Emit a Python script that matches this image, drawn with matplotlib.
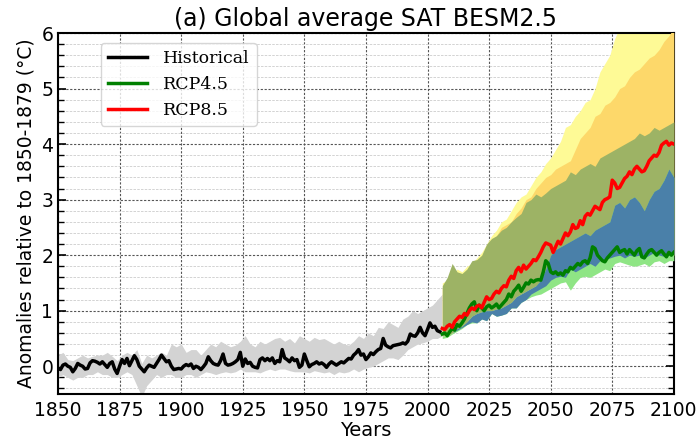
import numpy as np
import matplotlib
matplotlib.use("Agg")
import matplotlib.pyplot as plt
from matplotlib.ticker import MultipleLocator

# Historical global mean SAT anomaly (annual, 1850-2005)
hist_years = np.arange(1850, 2006)
hist = [
    -0.03, -0.06, 0.02, 0.04, 0.0, -0.02, -0.1, -0.04, 0.05, 0.02,
    0.0, -0.05, -0.04, 0.06, 0.1, 0.09, 0.07, 0.04, 0.08, 0.03,
    -0.02, 0.05, 0.08, -0.05, -0.13, 0.0, 0.12, 0.05, 0.14, 0.01,
    0.1, 0.19, 0.12, 0.0, -0.05, -0.1, -0.03, 0.02, 0.0, -0.02,
    0.05, 0.12, 0.2, 0.14, 0.08, 0.1, 0.0, -0.06, -0.05, -0.04,
    -0.05, 0.0, 0.03, 0.01, 0.04, -0.04, 0.0, -0.02, -0.06, -0.01,
    0.05, 0.17, 0.1, 0.05, 0.03, 0.02, 0.1, 0.22, 0.05, 0.02,
    0.03, 0.05, 0.08, 0.12, 0.25, 0.0, 0.13, 0.05, 0.07, 0.0,
    -0.02, -0.03, 0.12, 0.15, 0.1, 0.14, 0.1, 0.15, 0.05, 0.1,
    0.08, 0.3, 0.15, 0.12, 0.08, 0.15, 0.1, 0.12, -0.02, 0.02,
    0.22, 0.1, -0.01, 0.03, 0.05, 0.08, 0.04, 0.06, 0.03, -0.02,
    0.04, 0.08, 0.05, 0.02, 0.05, 0.08, 0.06, 0.1, 0.14, 0.13,
    0.2, 0.24, 0.3, 0.2, 0.22, 0.12, 0.17, 0.24, 0.21, 0.26,
    0.3, 0.32, 0.5, 0.38, 0.35, 0.33, 0.37, 0.38, 0.39, 0.4,
    0.42, 0.4, 0.45, 0.58, 0.55, 0.54, 0.6, 0.7, 0.6, 0.55,
    0.66, 0.78, 0.7, 0.72, 0.64, 0.62,
]

# ensemble spread of the historical runs (every 2 years)
hist_band_years = np.arange(1850, 2007, 2)
hist_hi = [
    0.2, 0.25, 0.12, 0.1, 0.15, 0.2, 0.15, 0.18, 0.2, 0.2,
    0.25, 0.18, 0.1, 0.2, 0.25, 0.2, 0.3, 0.05, 0.2, 0.15,
    0.2, 0.25, 0.2, 0.4, 0.35, 0.4, 0.25, 0.3, 0.3, 0.2,
    0.3, 0.4, 0.35, 0.45, 0.4, 0.35, 0.38, 0.45, 0.55, 0.4,
    0.35, 0.45, 0.4, 0.45, 0.5, 0.52, 0.45, 0.5, 0.42, 0.55,
    0.5, 0.45, 0.52, 0.48, 0.5, 0.45, 0.4, 0.45, 0.4, 0.38,
    0.45, 0.55, 0.5, 0.6, 0.55, 0.7, 0.68, 0.8, 0.75, 0.7,
    0.85, 0.9, 1.0, 0.95, 1.0, 1.05, 1.1, 1.2, 1.3,
]
hist_lo = [
    -0.2, -0.15, -0.2, -0.25, -0.2, -0.2, -0.15, -0.15, -0.1, -0.15,
    -0.15, -0.2, -0.2, -0.15, -0.1, -0.15, -0.35, -0.55, -0.35, -0.25,
    -0.15, -0.2, -0.15, -0.15, -0.2, -0.2, -0.15, -0.15, -0.2, -0.15,
    -0.1, -0.12, -0.15, -0.12, -0.1, -0.12, -0.1, -0.05, -0.1, -0.1,
    -0.1, -0.12, -0.08, -0.05, -0.08, -0.05, -0.05, -0.08, -0.1, -0.1,
    -0.1, -0.12, -0.08, -0.1, -0.12, -0.1, -0.15, -0.1, -0.12, -0.1,
    -0.05, -0.1, -0.05, -0.02, 0.0, 0.05, 0.1, 0.15, 0.15, 0.12,
    0.2, 0.3, 0.35, 0.4, 0.42, 0.45, 0.5, 0.5, 0.55,
]

# scenario runs (annual, 2006-2100)
scen_years = np.arange(2006, 2101)
rcp85 = [
    0.68, 0.66, 0.72, 0.75, 0.7, 0.8, 0.85, 0.9, 0.88, 0.95,
    0.92, 1.0, 1.05, 1.02, 1.08, 1.1, 1.05, 1.15, 1.25, 1.2,
    1.22, 1.3, 1.35, 1.32, 1.4, 1.45, 1.43, 1.55, 1.62, 1.58,
    1.72, 1.78, 1.7, 1.82, 1.75, 1.8, 1.85, 1.92, 1.9, 1.97,
    2.05, 2.15, 2.22, 2.2, 2.18, 2.05, 2.15, 2.25, 2.2, 2.3,
    2.4, 2.35, 2.42, 2.55, 2.48, 2.5, 2.62, 2.55, 2.7, 2.75,
    2.72, 2.8, 2.88, 2.85, 2.82, 2.95, 3.0, 3.02, 3.05, 3.35,
    3.3, 3.2, 3.22, 3.3, 3.38, 3.42, 3.5, 3.45, 3.55, 3.6,
    3.55, 3.5, 3.52, 3.6, 3.7, 3.75, 3.8, 3.78, 3.85, 3.98,
    4.02, 4.05, 3.98, 4.02, 4.0,
]
rcp45 = [
    0.58, 0.6, 0.55, 0.62, 0.68, 0.65, 0.75, 0.72, 0.78, 0.85,
    0.95, 1.05, 1.12, 1.16, 1.0, 1.1, 1.05, 1.0, 1.07, 1.1,
    1.05, 1.08, 1.12, 1.05, 1.1, 1.15, 1.2, 1.3, 1.25, 1.35,
    1.4, 1.46, 1.35, 1.42, 1.5, 1.48, 1.55, 1.52, 1.55, 1.56,
    1.55, 1.7, 1.9, 1.85, 1.7, 1.67, 1.7, 1.65, 1.68, 1.64,
    1.72, 1.7, 1.78, 1.75, 1.8, 1.85, 1.82, 1.88, 1.9, 1.85,
    1.95, 2.15, 2.12, 2.0, 1.95, 1.9, 1.88, 1.95, 2.0, 2.05,
    2.1, 2.15, 2.05, 2.08, 2.1, 2.02, 2.1, 2.05, 2.0, 2.08,
    2.12, 1.97, 1.95, 2.02, 2.08, 2.1, 2.05, 2.0, 2.05, 2.08,
    2.02, 1.97, 2.05, 2.0, 2.05,
]

# scenario spreads (every 2 years, 2006-2100)
band_years = np.arange(2006, 2101, 2)
yellow_hi = [
    1.5, 1.55, 1.6, 1.75, 1.7, 1.8, 1.85, 1.95, 2.05, 2.2,
    2.35, 2.45, 2.6, 2.65, 2.8, 2.95, 3.05, 3.1, 3.25, 3.4,
    3.5, 3.65, 3.75, 3.9, 4.05, 4.3, 4.35, 4.5, 4.6, 4.75,
    4.8, 5.0, 5.3, 5.45, 5.6, 5.9, 6.1, 6.3, 6.5, 6.6,
    6.7, 6.8, 6.9, 7.0, 7.1, 7.2, 7.3, 7.4,
]
orange_hi = [
    1.4, 1.5, 1.7, 1.6, 1.65, 1.7, 1.8, 1.85, 1.9, 2.1,
    2.25, 2.35, 2.5, 2.55, 2.6, 2.75, 2.85, 3.0, 3.05, 3.2,
    3.3, 3.4, 3.45, 3.55, 3.6, 3.65, 3.7, 3.9, 4.1, 4.2,
    4.3, 4.5, 4.55, 4.7, 4.75, 4.85, 5.0, 5.05, 5.2, 5.3,
    5.35, 5.45, 5.55, 5.6, 5.7, 5.85, 5.95, 6.1,
]
olive_hi = [
    1.45, 1.6, 1.85, 1.7, 1.67, 1.75, 1.9, 1.92, 2.0, 2.2,
    2.3, 2.35, 2.45, 2.5, 2.6, 2.68, 2.75, 2.95, 3.0, 3.1,
    3.05, 3.12, 3.2, 3.25, 3.3, 3.35, 3.5, 3.45, 3.55, 3.6,
    3.65, 3.6, 3.75, 3.8, 3.85, 3.9, 3.95, 4.0, 4.05, 4.1,
    4.2, 4.15, 4.2, 4.3, 4.25, 4.3, 4.35, 4.4,
]
olive_lo = [
    0.55, 0.55, 0.6, 0.68, 0.72, 0.8, 0.9, 0.95, 0.98, 1.0,
    1.0, 1.03, 1.05, 1.1, 1.15, 1.25, 1.3, 1.35, 1.4, 1.45,
    1.5, 1.55, 1.6, 1.6, 1.65, 1.7, 1.75, 1.8, 1.85, 1.85,
    1.9, 1.9, 1.9, 1.95, 1.95, 2.0, 2.0, 2.0, 2.0, 2.0,
    2.0, 2.0, 2.0, 2.0, 2.0, 2.0, 2.0, 2.0,
]
blue_hi = [
    0.55, 0.55, 0.6, 0.68, 0.72, 0.8, 0.9, 0.95, 0.98, 1.0,
    1.0, 1.03, 1.05, 1.1, 1.15, 1.25, 1.3, 1.35, 1.4, 1.45,
    1.55, 1.75, 2.0, 2.1, 2.15, 2.2, 2.25, 2.3, 2.35, 2.4,
    2.35, 2.45, 2.5, 2.55, 2.6, 2.9, 2.95, 2.85, 3.0, 3.05,
    2.95, 2.8, 3.0, 3.15, 3.2, 3.35, 3.55, 3.4,
]
blue_lo = [
    0.55, 0.55, 0.6, 0.65, 0.7, 0.75, 0.8, 0.78, 0.85, 0.82,
    0.95, 0.9, 0.92, 0.95, 1.05, 1.05, 1.15, 1.2, 1.3, 1.35,
    1.4, 1.45, 1.55, 1.6, 1.62, 1.6, 1.75, 1.7, 1.75, 1.8,
    1.85, 1.8, 1.9, 1.92, 1.95, 1.98, 2.0, 1.95, 2.0, 1.98,
    2.0, 1.95, 2.0, 2.05, 2.0, 1.98, 2.0, 2.02,
]
lgreen_lo = [
    0.5, 0.52, 0.58, 0.63, 0.68, 0.75, 0.78, 0.78, 0.85, 0.82,
    0.95, 0.9, 0.92, 0.95, 1.05, 1.05, 1.15, 1.2, 1.25, 1.28,
    1.3, 1.35, 1.4, 1.45, 1.5, 1.52, 1.37, 1.5, 1.6, 1.62,
    1.6, 1.65, 1.7, 1.75, 1.72, 1.85, 1.88, 1.85, 1.82, 1.8,
    1.82, 1.85, 1.8, 1.88, 1.9, 1.85, 1.9, 1.9,
]

y_ticks = [0, 1, 2, 3, 4, 5, 6]
x_ticks = [1850, 1875, 1900, 1925, 1950, 1975, 2000, 2025, 2050, 2075, 2100]

fig = plt.figure(figsize=(6.99, 4.43), dpi=100)
ax = fig.add_axes([0.083, 0.1106, 0.881, 0.8149])

# shaded spreads
ax.fill_between(hist_band_years, hist_lo, hist_hi, color='#d3d3d3', lw=0, zorder=1)
ax.fill_between(band_years, olive_lo, yellow_hi, color='#fefa96', lw=0, zorder=2)
ax.fill_between(band_years, olive_lo, orange_hi, color='#fdd86a', lw=0, zorder=3)
ax.fill_between(band_years, olive_lo, olive_hi, color='#9db365', lw=0, zorder=4)
ax.fill_between(band_years, lgreen_lo, blue_hi, color='#8fe585', lw=0, zorder=5)
ax.fill_between(band_years, blue_lo, blue_hi, color='#4a80a9', lw=0, zorder=6)

# ensemble means
ax.plot(hist_years, hist, color='black', lw=2.5, label='Historical', zorder=10)
ax.plot(scen_years, rcp45, color='green', lw=2.5, label='RCP4.5', zorder=11)
ax.plot(scen_years, rcp85, color='red', lw=2.5, label='RCP8.5', zorder=12)

ax.set_xlim(1850, 2100)
ax.set_ylim(-0.5, 6)
ax.set_xticks(x_ticks)
ax.set_xticklabels([str(v) for v in x_ticks])
ax.set_yticks(y_ticks)
ax.set_yticklabels([str(v) for v in y_ticks])
ax.yaxis.set_minor_locator(MultipleLocator(0.2))

ax.grid(which='major', color='#555555', ls=(0, (2, 1.5)), lw=0.8, zorder=0)
ax.grid(which='minor', axis='y', color='#cccccc', ls=(0, (3, 1.5)), lw=0.6, zorder=0)
ax.set_axisbelow(True)

ax.tick_params(which='both', direction='in', right=True, labelsize=13.5)
ax.tick_params(which='major', length=6, width=1.2)
ax.tick_params(which='minor', length=4, width=1.0)
ax.tick_params(axis='x', which='major', length=0, pad=5)
for sp in ax.spines.values():
    sp.set_linewidth(1.5)

ax.set_xlabel('Years', fontsize=14, labelpad=1)
ax.set_ylabel('Anomalies relative to 1850-1879 (°C)', fontsize=13.5)
ax.set_title('(a) Global average SAT BESM2.5', fontsize=17, pad=5)

leg = ax.legend(loc='upper left', bbox_to_anchor=(0.055, 0.995),
                prop={'family': 'DejaVu Serif', 'size': 12.5},
                handlelength=2.3, handletextpad=0.9, fancybox=True,
                framealpha=0.8, edgecolor='#cccccc')
leg.set_zorder(20)

fig.savefig('out.png', dpi=100)
